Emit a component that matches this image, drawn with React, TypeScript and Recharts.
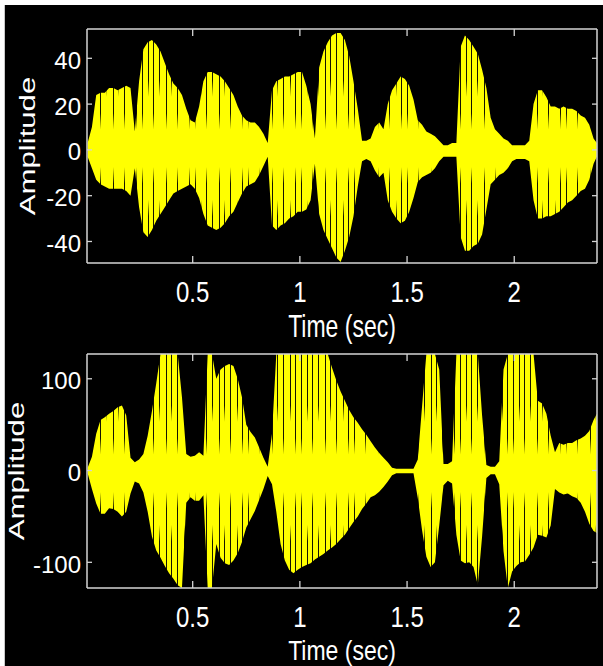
import { AreaChart, Area, XAxis, YAxis } from "recharts";

// Speech waveform, drawn as its amplitude envelope (upper / lower edge read every 20 ms).
const TIME = [
  0.01, 0.03, 0.05, 0.07, 0.09, 0.11, 0.13, 0.15, 0.17, 0.19,
  0.21, 0.23, 0.25, 0.27, 0.29, 0.31, 0.33, 0.35, 0.37, 0.39,
  0.41, 0.43, 0.45, 0.47, 0.49, 0.51, 0.53, 0.55, 0.57, 0.59,
  0.61, 0.63, 0.65, 0.67, 0.69, 0.71, 0.73, 0.75, 0.77, 0.79,
  0.81, 0.83, 0.85, 0.87, 0.89, 0.91, 0.93, 0.95, 0.97, 0.99,
  1.01, 1.03, 1.05, 1.07, 1.09, 1.11, 1.13, 1.15, 1.17, 1.19,
  1.21, 1.23, 1.25, 1.27, 1.29, 1.31, 1.33, 1.35, 1.37, 1.39,
  1.41, 1.43, 1.45, 1.47, 1.49, 1.51, 1.53, 1.55, 1.57, 1.59,
  1.61, 1.63, 1.65, 1.67, 1.69, 1.71, 1.73, 1.75, 1.77, 1.79,
  1.81, 1.83, 1.85, 1.87, 1.89, 1.91, 1.93, 1.95, 1.97, 1.99,
  2.01, 2.03, 2.05, 2.07, 2.09, 2.11, 2.13, 2.15, 2.17, 2.19,
  2.21, 2.23, 2.25, 2.27, 2.29, 2.31, 2.33, 2.35, 2.37, 2.385,
];

// top panel: original signal
const TOP_HI = [
  3, 10, 24, 25, 25, 27, 27, 26, 27, 28,
  27, 8, 30, 44, 47, 48, 46, 43, 38, 33,
  29, 27, 24, 18, 13, 12, 19, 30, 34, 34,
  33, 32, 30, 27, 24, 19, 15, 13, 12, 12,
  10, 7, 3, 26, 30, 31, 32, 32, 33, 34,
  34, 28, 20, 5, 36, 43, 47, 50, 51, 51,
  48, 41, 30, 18, 4, 4, 5, 10, 12, 9,
  20, 26, 29, 32, 31, 28, 22, 13, 11, 8,
  7, 6, 4, 2, 2, 3, 3, 45, 50, 48,
  45, 42, 35, 27, 14, 9, 7, 5, 4, 2,
  2, 2, 2, 4, 20, 26, 26, 23, 19, 19,
  18, 19, 18, 18, 17, 15, 14, 11, 5, 3,
];
const TOP_LO = [
  -3, -8, -13, -15, -16, -17, -17, -17, -17, -18,
  -20, -8, -25, -36, -38, -35, -31, -28, -25, -22,
  -19, -18, -17, -16, -15, -17, -21, -28, -33, -34,
  -35, -34, -32, -29, -27, -23, -19, -16, -15, -14,
  -11, -7, -3, -33, -35, -33, -32, -30, -29, -27,
  -27, -26, -22, -6, -28, -35, -39, -43, -47, -49,
  -44, -38, -29, -16, -5, -4, -5, -9, -12, -10,
  -22, -27, -30, -32, -31, -27, -21, -14, -12, -11,
  -10, -8, -5, -3, -3, -3, -3, -38, -44, -44,
  -42, -41, -37, -26, -15, -13, -11, -10, -8, -5,
  -4, -4, -4, -5, -22, -30, -30, -29, -29, -28,
  -27, -25, -23, -22, -20, -18, -17, -13, -6, -3,
];

// bottom panel: amplified / clipped signal
const BOT_HI = [
  3, 15, 40, 55, 58, 62, 65, 69, 71, 60,
  14, 9, 12, 18, 38, 65, 95, 127, 127, 127,
  127, 127, 80, 18, 15, 16, 20, 16, 127, 127,
  100, 110, 114, 116, 114, 100, 80, 50, 42, 36,
  25, 14, 4, 40, 127, 127, 127, 127, 127, 127,
  127, 127, 127, 127, 127, 127, 127, 112, 98, 86,
  76, 66, 58, 52, 45, 39, 32, 25, 19, 14,
  9, 3, 2, 2, 2, 2, 2, 12, 70, 127,
  127, 127, 110, 7, 7, 10, 127, 127, 127, 127,
  127, 127, 60, 6, 4, 4, 10, 110, 127, 127,
  127, 127, 127, 127, 127, 76, 73, 62, 38, 20,
  30, 28, 30, 30, 33, 35, 38, 43, 55, 62,
];
const BOT_LO = [
  -3, -20, -36, -47, -47, -41, -42, -45, -50, -45,
  -25, -12, -14, -24, -45, -72, -87, -95, -104, -112,
  -118, -125, -128, -35, -29, -33, -33, -27, -128, -128,
  -80, -95, -101, -103, -98, -90, -78, -62, -53, -44,
  -32, -20, -6, -15, -45, -80, -98, -108, -112, -108,
  -105, -103, -101, -97, -94, -91, -87, -84, -80, -75,
  -70, -63, -56, -50, -42, -36, -29, -27, -23, -18,
  -12, -5, -3, -3, -3, -3, -3, -30, -65, -94,
  -105, -100, -60, -16, -11, -14, -70, -98, -101, -100,
  -105, -125, -72, -8, -4, -4, -15, -88, -128, -110,
  -104, -100, -99, -92, -84, -70, -71, -73, -60, -20,
  -24, -26, -25, -28, -30, -35, -45, -58, -66, -68,
];

const X_TICKS = [0.5, 1, 1.5, 2];
const TOP_Y_TICKS = [-40, -20, 0, 20, 40];
const BOT_Y_TICKS = [-100, 0, 100];

const YELLOW = "#ffff00";
const BOX = "#d4d4d4";
const FONT = "'Liberation Sans', Arial, Helvetica, sans-serif";
// dark aliasing slits inside one 53px texture tile: deep ones reach close to zero
const SLITS = [
  { x: 2, deep: true },
  { x: 8, deep: false },
  { x: 13, deep: true },
  { x: 19, deep: false },
  { x: 26, deep: true },
  { x: 31, deep: false },
  { x: 37, deep: true },
  { x: 44, deep: false },
  { x: 49, deep: true },
];

const topData = TIME.map((t, i) => ({ t, hi: TOP_HI[i], lo: TOP_LO[i] }));
const botData = TIME.map((t, i) => ({ t, hi: BOT_HI[i], lo: BOT_LO[i] }));

function XTick(props: any) {
  const { x, y, payload, dir, showLabel } = props;
  return (
    <g>
      <line x1={x} x2={x} y1={y} y2={y + dir * 7} stroke={BOX} strokeWidth={1.3} />
      {showLabel && (
        <text
          transform={`translate(${x},${y + 39}) scale(1,1.25)`}
          textAnchor="middle"
          fill="#fff"
          fontSize={24}
          fontFamily={FONT}
        >
          {payload.value}
        </text>
      )}
    </g>
  );
}

function YTick(props: any) {
  const { x, y, payload, dir, showLabel } = props;
  return (
    <g>
      <line x1={x} x2={x + dir * 5} y1={y} y2={y} stroke={BOX} strokeWidth={1.3} />
      {showLabel && (
        <text x={x - 6} y={y + 10.5} textAnchor="end" fill="#fff" fontSize={24} fontFamily={FONT}>
          {payload.value}
        </text>
      )}
    </g>
  );
}

function xTitle(offset: number, stretch: number) {
  return ({ viewBox }: any) => {
    const { x, y, width } = viewBox;
    return (
      <text
        transform={`translate(${x + width / 2},${y + offset}) scale(1,${stretch})`}
        textAnchor="middle"
        fill="#fff"
        fontSize={23}
        fontFamily={FONT}
      >
        Time (sec)
      </text>
    );
  };
}

function yTitle(offset: number) {
  return ({ viewBox }: any) => {
    const { x, y, width, height } = viewBox;
    return (
      <text
        transform={`translate(${x + width - offset},${y + height / 2}) rotate(-90) scale(1.45,1)`}
        textAnchor="middle"
        fill="#fff"
        fontSize={21.5}
        fontFamily={FONT}
      >
        Amplitude
      </text>
    );
  };
}

function SlitGradient({ id, a, b }: { id: string; a: number; b: number }) {
  // dark near the plot edges, clear around the zero line
  return (
    <linearGradient id={id} x1="0" y1="0" x2="0" y2="1">
      <stop offset="0" stopColor="#141400" stopOpacity={1} />
      <stop offset={a} stopColor="#141400" stopOpacity={1} />
      <stop offset={a + 0.07} stopColor="#141400" stopOpacity={0} />
      <stop offset={b - 0.07} stopColor="#141400" stopOpacity={0} />
      <stop offset={b} stopColor="#141400" stopOpacity={1} />
      <stop offset="1" stopColor="#141400" stopOpacity={1} />
    </linearGradient>
  );
}

function Panel({
  id,
  data,
  yDomain,
  yTicks,
  height,
  margin,
  titleOffset,
  xTitleOffset,
  xTitleStretch,
}: {
  id: string;
  data: { t: number; hi: number; lo: number }[];
  yDomain: [number, number];
  yTicks: number[];
  height: number;
  margin: { top: number; right: number; bottom: number; left: number };
  titleOffset: number;
  xTitleOffset: number;
  xTitleStretch: number;
}) {
  // each axis takes 1px of room, the margins below already account for it
  const plotTop = margin.top + 1;
  const plotH = height - margin.top - margin.bottom - 2;
  return (
    <AreaChart width={603} height={height} data={data} margin={margin}>
      <defs>
        <SlitGradient id={`${id}-deep`} a={0.36} b={0.66} />
        <SlitGradient id={`${id}-shallow`} a={0.22} b={0.8} />
        <pattern
          id={`${id}-wave`}
          patternUnits="userSpaceOnUse"
          x={margin.left + 1}
          y={plotTop}
          width={53}
          height={plotH}
        >
          <rect width={53} height={plotH} fill={YELLOW} />
          {SLITS.map((s) => (
            <rect
              key={s.x}
              x={s.x}
              y={0}
              width={1}
              height={plotH}
              fill={`url(#${id}-${s.deep ? "deep" : "shallow"})`}
            />
          ))}
        </pattern>
      </defs>
      <XAxis
        xAxisId="b"
        dataKey="t"
        type="number"
        domain={[0.007, 2.386]}
        allowDataOverflow
        ticks={X_TICKS}
        interval={0}
        height={1}
        tickSize={0}
        tickMargin={0}
        tickLine={false}
        axisLine={{ stroke: BOX, strokeWidth: 1.5 }}
        tick={<XTick dir={-1} showLabel />}
        label={{ content: xTitle(xTitleOffset, xTitleStretch) }}
      />
      <XAxis
        xAxisId="t"
        orientation="top"
        dataKey="t"
        type="number"
        domain={[0.007, 2.386]}
        allowDataOverflow
        ticks={X_TICKS}
        interval={0}
        height={1}
        tickSize={0}
        tickMargin={0}
        tickLine={false}
        axisLine={{ stroke: BOX, strokeWidth: 1.5 }}
        tick={<XTick dir={1} showLabel={false} />}
      />
      <YAxis
        yAxisId="l"
        type="number"
        domain={yDomain}
        allowDataOverflow
        ticks={yTicks}
        interval={0}
        width={1}
        tickSize={0}
        tickMargin={0}
        tickLine={false}
        axisLine={{ stroke: BOX, strokeWidth: 1.5 }}
        tick={<YTick dir={1} showLabel />}
        label={{ content: yTitle(titleOffset) }}
      />
      <YAxis
        yAxisId="r"
        orientation="right"
        type="number"
        domain={yDomain}
        allowDataOverflow
        ticks={yTicks}
        interval={0}
        width={1}
        tickSize={0}
        tickMargin={0}
        tickLine={false}
        axisLine={{ stroke: BOX, strokeWidth: 1.5 }}
        tick={<YTick dir={-1} showLabel={false} />}
      />
      <Area
        xAxisId="b"
        yAxisId="l"
        type="linear"
        dataKey={(d: any) => [d.lo, d.hi]}
        stroke="none"
        fill={`url(#${id}-wave)`}
        fillOpacity={1}
        dot={false}
        activeDot={false}
        isAnimationActive={false}
      />
    </AreaChart>
  );
}

export default function App() {
  return (
    <div
      style={{
        position: "absolute",
        left: 0,
        top: 0,
        width: 603,
        height: 666,
        background: "#fff",
        overflow: "hidden",
      }}
    >
      <div
        style={{
          position: "absolute",
          left: 4,
          top: 5,
          width: 599,
          height: 661,
          background: "#000",
          borderLeft: "1px solid #c8c8c8",
          boxSizing: "border-box",
        }}
      />
      <div style={{ position: "absolute", left: 0, top: 0 }}>
        <Panel
          id="top"
          data={topData}
          yDomain={[-49.4, 52.8]}
          yTicks={TOP_Y_TICKS}
          height={350}
          margin={{ top: 28, right: 5, bottom: 86, left: 86 }}
          titleOffset={52.5}
          xTitleOffset={74}
          xTitleStretch={1.35}
        />
      </div>
      <div style={{ position: "absolute", left: 0, top: 350 }}>
        <Panel
          id="bot"
          data={botData}
          yDomain={[-128, 127]}
          yTicks={BOT_Y_TICKS}
          height={316}
          margin={{ top: 3, right: 5, bottom: 77, left: 86 }}
          titleOffset={63.3}
          xTitleOffset={72}
          xTitleStretch={1.2}
        />
      </div>
    </div>
  );
}
